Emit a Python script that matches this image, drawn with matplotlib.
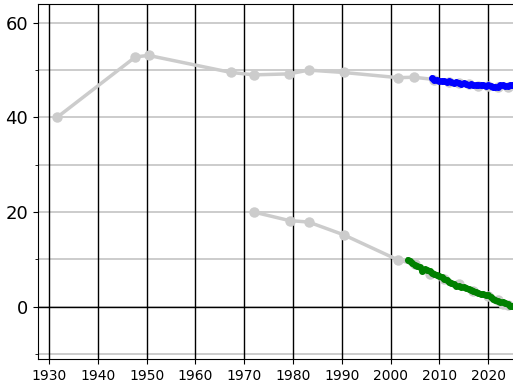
import matplotlib.pyplot as plt
from matplotlib.ticker import MultipleLocator

# Long-run reference series (grey)
upper_years = [1931.6, 1947.7, 1950.4, 1967.3, 1972.0, 1979.2, 1983.2, 1990.4,
               2001.6, 2004.8, 2009, 2012, 2014, 2016, 2018, 2020, 2022, 2024]
upper_vals = [40.0, 52.8, 53.1, 49.5, 49.0, 49.2, 50.0, 49.5,
              48.4, 48.5, 48.0, 47.5, 47.2, 47.0, 46.7, 46.6, 46.4, 46.5]

lower_years = [1972.0, 1979.3, 1983.2, 1990.4, 2001.5, 2005, 2008, 2011,
               2014, 2017, 2020, 2022, 2023, 2024]
lower_vals = [20.0, 18.2, 17.9, 15.2, 9.9, 9.0, 7.0, 5.8,
              4.8, 3.3, 2.3, 1.5, 0.6, 0.4]

# Recent high-frequency series
blue_years = [2008.5, 2009, 2009.5, 2010, 2010.5, 2011, 2011.5, 2012, 2012.5,
              2013, 2013.5, 2014, 2014.5, 2015, 2015.5, 2016, 2016.5, 2017,
              2017.5, 2018, 2018.5, 2019, 2019.5, 2020, 2020.5, 2021, 2021.5,
              2022, 2022.5, 2023, 2023.5, 2024, 2024.5, 2025, 2025.5]
blue_vals = [48.3, 48.0, 47.9, 47.7, 47.8, 47.6, 47.5, 47.6, 47.4,
             47.3, 47.4, 47.2, 47.1, 47.2, 47.0, 46.9, 47.0, 46.9,
             46.8, 46.9, 46.8, 46.9, 46.7, 46.8, 46.6, 46.5, 46.4,
             46.5, 46.8, 46.9, 46.7, 46.7, 46.8, 46.8, 46.8]

green_years = [2003.5, 2004, 2004.5, 2005, 2005.5, 2006, 2006.5, 2007, 2007.5,
               2008, 2008.5, 2009, 2009.5, 2010, 2010.5, 2011, 2011.5, 2012,
               2012.5, 2013, 2013.5, 2014, 2014.5, 2015, 2015.5, 2016, 2016.5,
               2017, 2017.5, 2018, 2018.5, 2019, 2019.5, 2020, 2020.5, 2021,
               2021.5, 2022, 2022.5, 2023, 2023.5, 2024, 2024.5, 2025, 2025.5]
green_vals = [9.9, 9.6, 9.2, 8.9, 8.6, 8.4, 7.6, 8.0, 7.7,
              7.5, 7.2, 6.9, 6.7, 6.5, 6.2, 5.9, 5.6, 5.3,
              5.0, 4.8, 4.4, 4.3, 4.2, 4.1, 3.9, 3.7, 3.5,
              3.4, 3.2, 3.0, 2.8, 2.7, 2.5, 2.4, 2.1, 1.7,
              1.4, 1.2, 1.0, 0.9, 0.8, 0.5, 0.2, 0.1, 0.0]

decades = list(range(1930, 2030, 10))

fig = plt.figure(figsize=(5.13, 3.85), dpi=100)
ax = fig.add_axes([0.074, 0.068, 1.02, 0.922])
ax.set_xlim(1927.7, 2035)
ax.set_ylim(-11, 64)

ax.yaxis.set_major_locator(MultipleLocator(20))
ax.yaxis.set_minor_locator(MultipleLocator(10))
ax.set_xticks(decades)
ax.set_axisbelow(True)
ax.grid(axis="y", which="both", color="#c8c8c8", lw=1.3)
for d in decades:
    ax.axvline(d, color="black", lw=1.0, zorder=1)
ax.axhline(0, color="black", lw=1.0, zorder=1)

grey = "#cccccc"
ax.plot(upper_years, upper_vals, "-o", color=grey, lw=2.5, ms=6.5, zorder=2)
ax.plot(lower_years, lower_vals, "-o", color=grey, lw=2.5, ms=6.5, zorder=2)
ax.plot(blue_years, blue_vals, "-o", color="blue", lw=3, ms=4, zorder=3)
ax.plot(green_years, green_vals, "-o", color="green", lw=3, ms=4, zorder=3)

ax.tick_params(axis="y", labelsize=13)
ax.tick_params(axis="x", labelsize=10)
ax.spines["right"].set_visible(False)

fig.savefig("out.png", dpi=100)
